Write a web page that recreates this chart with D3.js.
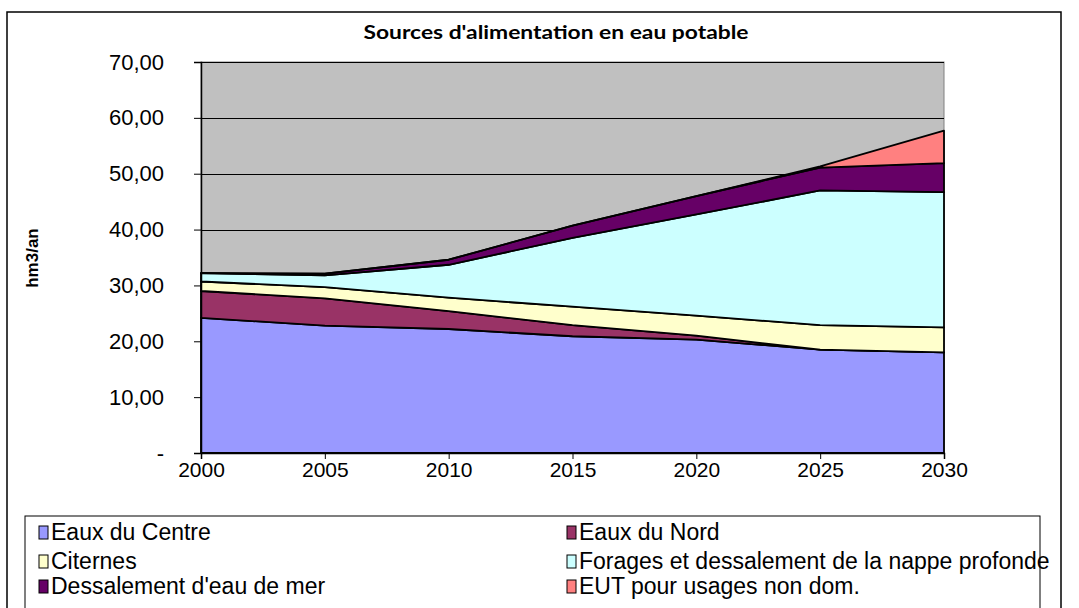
<!DOCTYPE html>
<html>
<head>
<meta charset="utf-8">
<script src="https://cdn.jsdelivr.net/npm/d3@7"></script>
<style>
  html, body { margin: 0; padding: 0; background: #fff; }
  svg { display: block; }
</style>
</head>
<body>
<svg id="chart" width="1079" height="608"></svg>
<script>
// Years on the horizontal axis
const years = [2000, 2005, 2010, 2015, 2020, 2025, 2030];

// Supply sources, hm3 per year
const eauxCentre   = [24.2, 22.8, 22.2, 20.9, 20.3, 18.5, 18.0];
const eauxNord     = [4.8, 4.9, 3.2, 2.0, 0.7, 0.0, 0.0];
const citernes     = [1.7, 2.0, 2.4, 3.3, 3.6, 4.4, 4.5];
const forages      = [1.5, 2.1, 5.9, 12.3, 18.1, 24.1, 24.2];
const dessalMer    = [0.0, 0.3, 0.9, 2.2, 3.3, 4.1, 5.2];
const eutNonDom    = [0.0, 0.0, 0.0, 0.0, 0.0, 0.2, 5.8];

const seriesNames = [
  "Eaux du Centre",
  "Eaux du Nord",
  "Citernes",
  "Forages et dessalement de la nappe profonde",
  "Dessalement d'eau de mer",
  "EUT pour usages non dom."
];
const seriesColors = ["#9999FF", "#993366", "#FFFFCC", "#CCFFFF", "#660066", "#FF8080"];
const seriesValues = [eauxCentre, eauxNord, citernes, forages, dessalMer, eutNonDom];

const yTicks = [0, 10, 20, 30, 40, 50, 60, 70];
const title = "Sources d'alimentation en eau potable";
const yTitle = "hm3/an";

// Row table for d3.stack
const keys = seriesNames;
const rows = years.map((yr, i) => {
  const r = { year: yr };
  keys.forEach((k, j) => { r[k] = seriesValues[j][i]; });
  return r;
});

const svg = d3.select("#chart");
const FONT = "'Liberation Sans', Arial, sans-serif";

// Chart frame
svg.append("rect")
  .attr("x", 7).attr("y", 12).attr("width", 1054).attr("height", 610)
  .attr("fill", "#fff").attr("stroke", "#000").attr("stroke-width", 1.5);

const plot = { left: 201, right: 944, top: 62, bottom: 453 };

const x = d3.scaleLinear().domain([2000, 2030]).range([plot.left, plot.right]);
const y = d3.scaleLinear().domain([0, 70]).range([plot.bottom, plot.top]);

// Plot background
svg.append("rect")
  .attr("x", plot.left).attr("y", plot.top)
  .attr("width", plot.right - plot.left).attr("height", plot.bottom - plot.top)
  .attr("fill", "#C0C0C0").attr("stroke", "#808080").attr("stroke-width", 1);

// Horizontal gridlines
svg.append("g")
  .selectAll("line")
  .data(yTicks.filter(t => t > 0))
  .join("line")
  .attr("x1", plot.left).attr("x2", plot.right)
  .attr("y1", d => Math.round(y(d)) + 0.5).attr("y2", d => Math.round(y(d)) + 0.5)
  .attr("stroke", "#000").attr("stroke-width", 1);

// Stacked areas
const stack = d3.stack().keys(keys);
const layers = stack(rows);
const area = d3.area()
  .x(d => x(d.data.year))
  .y0(d => y(d[0]))
  .y1(d => y(d[1]));

svg.append("g")
  .selectAll("path")
  .data(layers)
  .join("path")
  .attr("d", area)
  .attr("fill", (d, i) => seriesColors[i])
  .attr("stroke", "#000")
  .attr("stroke-width", 1.8)
  .attr("stroke-linejoin", "round");

// Y axis
const yAxis = d3.axisLeft(y)
  .tickValues(yTicks)
  .tickSize(7)
  .tickPadding(30)
  .tickFormat(d => d === 0 ? "-" : d3.format(".2f")(d).replace(".", ","));
const gy = svg.append("g").attr("transform", `translate(${plot.left},0)`).call(yAxis);
gy.select(".domain").attr("stroke", "#000").attr("stroke-width", 1.5);
gy.selectAll(".tick line").attr("stroke", "#000");
gy.selectAll(".tick text")
  .attr("font-family", FONT).attr("font-size", 22).attr("fill", "#000");

// X axis
const xAxis = d3.axisBottom(x)
  .tickValues(years)
  .tickSize(6)
  .tickPadding(3)
  .tickFormat(d3.format("d"));
const gx = svg.append("g").attr("transform", `translate(0,${plot.bottom})`).call(xAxis);
gx.select(".domain").attr("stroke", "#000").attr("stroke-width", 1.5);
gx.selectAll(".tick line").attr("stroke", "#000");
gx.selectAll(".tick text")
  .attr("font-family", FONT).attr("font-size", 21).attr("fill", "#000");

// Titles
svg.append("text")
  .attr("x", 556).attr("y", 39)
  .attr("text-anchor", "middle")
  .attr("font-family", "Lato, 'Open Sans', sans-serif")
  .attr("font-weight", "bold")
  .attr("font-size", 19)
  .attr("textLength", 385)
  .attr("lengthAdjust", "spacingAndGlyphs")
  .text(title);

svg.append("text")
  .attr("transform", "translate(38,258) rotate(-90)")
  .attr("text-anchor", "middle")
  .attr("font-family", FONT)
  .attr("font-weight", "bold")
  .attr("font-size", 17)
  .text(yTitle);

// Legend
svg.append("rect")
  .attr("x", 25).attr("y", 516).attr("width", 1015).attr("height", 110)
  .attr("fill", "#fff").attr("stroke", "#000").attr("stroke-width", 1);

const legendPos = [
  { x: 39, y: 532 }, { x: 567, y: 532 },
  { x: 39, y: 561 }, { x: 567, y: 561 },
  { x: 39, y: 586 }, { x: 567, y: 586 }
];
const lg = svg.append("g")
  .selectAll("g")
  .data(seriesNames)
  .join("g")
  .attr("transform", (d, i) => `translate(${legendPos[i].x},${legendPos[i].y})`);
lg.append("rect")
  .attr("x", 0).attr("y", -6).attr("width", 9).attr("height", 13)
  .attr("fill", (d, i) => seriesColors[i])
  .attr("stroke", "#000").attr("stroke-width", 1);
lg.append("text")
  .attr("x", 12).attr("y", 8)
  .attr("font-family", FONT).attr("font-size", 23)
  .text(d => d);
</script>
</body>
</html>
